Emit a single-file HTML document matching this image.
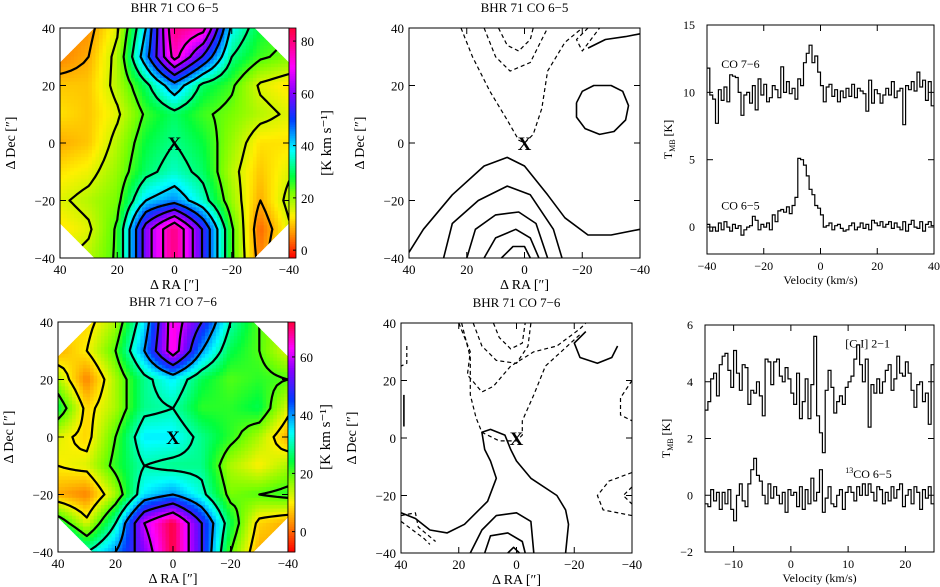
<!DOCTYPE html>
<html><head><meta charset="utf-8">
<style>
body{margin:0;background:#fff;}
svg{display:block;font-family:"Liberation Serif",serif;}
text{fill:#000;}
</style></head>
<body>
<svg id="fig" width="940" height="587" viewBox="0 0 940 587" xmlns="http://www.w3.org/2000/svg">
<defs>
<clipPath id="oct1"><polygon id="oct1p" points="0,0"/></clipPath>
<clipPath id="oct2"><polygon id="oct2p" points="0,0"/></clipPath>
</defs>
</svg>
<script>
// ===== Data =====
const co65Grid = [
 [5,6,15,40,80,75,38,28,25],
 [5,8,18,45,75,55,32,25,22],
 [10,10,18,30,45,30,25,15,12],
 [12,10,15,25,30,25,22,18,15],
 [8,10,18,28,32,28,20,12,12],
 [12,14,20,30,35,30,18,10,15],
 [15,18,22,40,45,35,20,8,18],
 [12,15,25,60,80,55,25,3,15],
 [15,18,25,60,80,55,25,5,18]
];
const co76Grid = [
 [10,8,15,35,65,50,30,20,15],
 [5,10,20,40,65,40,25,20,12],
 [15,2,15,28,35,25,20,22,20],
 [25,8,15,28,30,22,22,25,12],
 [12,8,20,35,35,28,22,15,5],
 [10,12,22,30,28,28,15,10,15],
 [5,2,15,35,40,32,18,20,22],
 [25,12,30,60,72,50,25,8,5],
 [45,30,40,55,72,50,20,5,5]
];
const co65Levels = [8,16,24,32,40,48,56,64,72];
const co76Levels = [10,20,30,40,50,60];
const cbTicks65 = [0,20,40,60,80];
const cbTicks76 = [0,20,40,60];
const mapTicks = [40,20,0,-20,-40];

const co76Spec = [11.8,9.8,9.5,7.7,10.2,9.4,10.4,9.3,11.3,11.2,11.1,10,8.3,9.8,10,9.2,10.5,8.7,11,9.8,10.6,9.3,9.6,10.5,10.2,9.6,11.9,10,10.8,9.9,10.3,9.5,11,10.5,12.2,12.9,13.5,12.2,12.7,11.5,10.5,9.3,10.4,10.6,9.7,10.2,9.3,10.1,9.6,10.3,9.7,10.6,9.6,10.3,10.1,9.9,8.6,10.9,9.2,10.2,9.9,9.2,9.8,10.3,9.8,10.8,9.6,10.1,10.3,7.6,10.5,10.2,10.8,10.1,11.5,10.4,10.9,9.4,10.8,9];
const co65Spec = [0.2,-0.3,0,-0.3,0.3,-0.2,0.4,0,-0.3,0.2,-0.1,0.1,-0.6,-0.2,0,0.1,0.8,0.5,-0.2,0.2,0,0.3,-0.2,0.9,0.4,1.2,1.3,1.1,1.5,1,1.6,2.2,5.1,5,4.6,3.8,2.8,2.4,1.6,1.4,0.9,0,0.1,0.3,-0.2,0.1,0.2,-0.1,-0.3,-0.2,0.1,0.3,-0.2,0,0.3,-0.1,0.2,-0.2,0.5,0.3,0.1,0.4,0,0.2,0.4,-0.1,0.3,0,-0.2,0.4,-0.3,0.2,0.5,0,-0.1,0.4,-0.3,0.2,0.4,0.1];
const ciSpec = [3,3.3,4.1,4.3,3.5,4.6,4.9,5,4.4,3.8,5.1,4.3,3.7,4.6,4.5,3.2,3.7,3.6,4,3.5,2.8,4.8,4.7,3.9,4.7,4.8,4.2,4,4.5,4.1,3.6,3.2,4.3,2.7,3.3,4.1,2.7,3.9,5.6,2.8,2.2,1.5,3.7,4.4,3.8,2.9,3.3,3.5,3.2,3.8,4,4.2,4.8,5.3,4.6,4,4.8,2.4,3.9,3.6,4.1,3.6,4,4.4,4.6,3.7,4.1,4.9,4.3,4.2,4.7,4.3,3.7,3.1,3.9,4,3.3,3.6,2.5,4.6];
const co13Spec = [-0.3,-0.4,0.2,-0.2,0.1,-0.5,0.1,-0.3,0.2,-0.5,-0.9,0,0.4,-0.2,-0.4,0.4,0.9,1.3,0.7,0.5,0,-0.3,0.4,-0.1,0.3,0,-0.3,0.1,-0.6,0.2,0,0.1,-0.4,0.3,-0.5,0.2,-0.3,0.6,-0.2,0.1,0.9,-0.6,-0.1,0.3,-0.3,-0.4,0,0.2,-0.5,0.1,0.3,0.1,-0.2,0.3,0,0.4,0,0.4,0.1,-0.2,0.3,0.2,-0.3,0.1,-0.2,0.3,-0.1,0.2,0.4,-0.4,0,0.2,-0.3,0.3,0.1,-0.5,0.2,-0.1,0.3,-0.3];
const specTicksTopX = [-40,-20,0,20,40];
const specTicksTopY = [0,5,10,15];
const specTicksBotX = [-10,0,10,20];
const specTicksBotY = [-2,0,2,4,6];

const mid1Dashed = [
 [[22,40],[18,30],[12,18],[6,8],[2,1],[0,0],[-3,3],[-6,12],[-8,25],[-14,35],[-20,40]],
 [[14,40],[10,30],[5,25],[-2,28],[-6,36],[-8,40]],
 [[9,40],[6,34],[2,32],[-2,36],[-3,40]],
 [[-22,40],[-18,36],[-20,32],[-26,40]]
];
const mid1Solid = [
 [[-18,14],[-18,9],[-21,5],[-26,3],[-31,4],[-35,8],[-36,13],[-34,18],[-30,20],[-24,20],[-20,18],[-18,14]],
 [[-22,33],[-28,36],[-35,37],[-40,38]],
 [[40,-38],[35,-30],[25,-18],[14,-8],[6,-5],[0,-8],[-8,-18],[-14,-26],[-22,-32],[-30,-32],[-40,-30]],
 [[28,-40],[25,-28],[16,-20],[6,-15],[-2,-18],[-10,-30],[-13,-40]],
 [[20,-40],[17,-30],[10,-25],[2,-24],[-4,-28],[-8,-40]],
 [[14,-40],[10,-33],[3,-30],[-2,-33],[-5,-40]],
 [[8,-40],[4,-36],[0,-36],[-2,-40]]
];
const mid2Dashed = [
 [[20,40],[16,30],[17,22],[12,16],[8,18],[2,25],[-6,30],[-14,32],[-22,38],[-24,40]],
 [[15,40],[12,32],[7,27],[0,26],[-4,32],[-5,40]],
 [[8,40],[6,35],[2,31],[-2,33],[-3,40]],
 [[19,40],[16,28],[16,15],[14,7],[12,2],[6,-1],[0,-1],[-2,1],[-2,6],[-6,15],[-10,25],[-22,36]],
 [[38,32],[38,26],[40,25]],
 [[-40,20],[-36,14],[-36,8],[-40,6]],
 [[-40,-12],[-32,-15],[-28,-20],[-30,-25],[-40,-27]],
 [[-40,-17],[-37,-20],[-40,-23]],
 [[40,-27],[35,-26],[34,-31],[28,-36]],
 [[40,-29],[36,-32],[32,-35],[30,-37]]
];
const mid2Solid = [
 [[40,-26],[35,-28],[30,-32],[24,-33],[18,-30],[10,-22],[7,-14],[9,-8],[11,-4],[12,2],[9,3],[4,1],[2,-4],[0,-8],[-5,-14],[-14,-20],[-17,-25],[-18,-30],[-17,-40]],
 [[16,-40],[12,-32],[7,-27],[0,-26],[-5,-29],[-6,-40]],
 [[11,-40],[9,-34],[3,-33],[-2,-36],[-3,-40]],
 [[3,-40],[1,-38],[-1,-40]],
 [[39,15],[39,8],[39,4]],
 [[-24,37],[-20,33],[-22,28],[-28,26],[-33,28],[-35,32]]
];

// ===== Rendering =====
const NS = "http://www.w3.org/2000/svg";
const svg = document.getElementById('fig');
function el(tag, attrs, parent){
  const e = document.createElementNS(NS, tag);
  for (const k in attrs) e.setAttribute(k, attrs[k]);
  (parent||svg).appendChild(e);
  return e;
}
function txt(x,y,s,size,anchor,parent,rot){
  const t = el('text',{x:x,y:y,'font-size':size,'text-anchor':anchor||'middle'},parent);
  if (rot) t.setAttribute('transform','rotate('+rot+' '+x+' '+y+')');
  t.textContent = s;
  return t;
}
const stops65 = [[-3,[255,0,0]],[5,[255,130,0]],[13,[255,240,0]],[22,[120,255,0]],[28,[0,255,60]],[38,[0,255,255]],[50,[0,60,255]],[60,[130,0,255]],[70,[255,0,255]],[85,[255,0,60]]];
const stops76 = [[-7,[255,0,0]],[2,[255,130,0]],[10,[255,240,0]],[18,[120,255,0]],[24,[0,255,60]],[34,[0,255,255]],[45,[0,60,255]],[55,[130,0,255]],[63,[255,0,255]],[72,[255,0,60]]];
function cmap(v, stops){
  if (v<=stops[0][0]) return 'rgb('+stops[0][1]+')';
  for (let i=1;i<stops.length;i++){
    if (v<=stops[i][0]){
      const a=stops[i-1], b=stops[i], t=(v-a[0])/(b[0]-a[0]);
      return 'rgb('+a[1].map((c,k)=>Math.round(c+(b[1][k]-c)*t)).join(',')+')';
    }
  }
  return 'rgb('+stops[stops.length-1][1]+')';
}
function axesFns(x0,x1,y0,y1){
  return {sx:ra=>x0+(40-ra)/80*(x1-x0), sy:d=>y0+(40-d)/80*(y1-y0)};
}
function sample(grid, ra, dec){
  const fj=(40-ra)/10, fi=(40-dec)/10;
  const j0=Math.max(0,Math.min(7,Math.floor(fj))), i0=Math.max(0,Math.min(7,Math.floor(fi)));
  const tj=fj-j0, ti=fi-i0;
  return grid[i0][j0]*(1-tj)*(1-ti)+grid[i0][j0+1]*tj*(1-ti)+grid[i0+1][j0]*(1-tj)*ti+grid[i0+1][j0+1]*tj*ti;
}
function mapTicksDraw(g,x0,x1,y0,y1,A){
  mapTicks.forEach(t=>{
    el('line',{x1:A.sx(t),x2:A.sx(t),y1:y1,y2:y1-6,stroke:'#000'},g);
    el('line',{x1:A.sx(t),x2:A.sx(t),y1:y0,y2:y0+6,stroke:'#000'},g);
    el('line',{x1:x0,x2:x0+6,y1:A.sy(t),y2:A.sy(t),stroke:'#000'},g);
    el('line',{x1:x1,x2:x1-6,y1:A.sy(t),y2:A.sy(t),stroke:'#000'},g);
    const lx = txt(A.sx(t), y1+16, t===0?'0':(t<0?'\u2212'+(-t):''+t), 13, 'middle', g);
    
    
    const ly = txt(x0-5, A.sy(t)+5, t===0?'0':(t<0?'\u2212'+(-t):''+t), 13, 'end', g);
    
    
  });
}
function drawMap(name, grid, stops, levels, x0,x1,y0,y1, clipId, cbTicks, cbMin, cbMax, title){
  const g = el('g',{});
  
  
  const A = axesFns(x0,x1,y0,y1);
  const c=12;
  const pts=[[40-c,40],[-40+c,40],[-40,40-c],[-40,-40+c],[-40+c,-40],[40-c,-40],[40,-40+c],[40,40-c]].map(p=>A.sx(p[0])+','+A.sy(p[1])).join(' ');
  document.getElementById(clipId+'p').setAttribute('points',pts);
  const hm = el('g',{'clip-path':'url(#'+clipId+')'},g);
  
  
  const N=64, step=80/N;
  const cw=(x1-x0)/N, ch=(y1-y0)/N;
  for(let i=0;i<N;i++) for(let j=0;j<N;j++){
    const ra=40-(j+0.5)*step, dec=40-(i+0.5)*step;
    const v=sample(grid,ra,dec);
    const r=el('rect',{x:A.sx(40-j*step)-0.3,y:A.sy(40-i*step)-0.3,width:cw+0.6,height:ch+0.6,fill:cmap(v,stops)},hm);
    
    
  }
  const M=40, ms=80/M;
  const F=[];
  for(let i=0;i<=M;i++){F.push([]);for(let j=0;j<=M;j++)F[i].push(sample(grid,40-j*ms,40-i*ms));}
  let d='';
  levels.forEach(L=>{
    for(let i=0;i<M;i++) for(let j=0;j<M;j++){
      const a=F[i][j],b=F[i][j+1],cc=F[i+1][j+1],dd=F[i+1][j];
      const P=[];
      const ed=(v1,v2,p1,p2)=>{ if((v1<L)!==(v2<L)){const t=(L-v1)/(v2-v1);P.push([p1[0]+(p2[0]-p1[0])*t,p1[1]+(p2[1]-p1[1])*t]);} };
      const c00=[j,i],c01=[j+1,i],c11=[j+1,i+1],c10=[j,i+1];
      ed(a,b,c00,c01);ed(b,cc,c01,c11);ed(cc,dd,c11,c10);ed(dd,a,c10,c00);
      const X=p=>A.sx(40-p[0]*ms).toFixed(1), Y=p=>A.sy(40-p[1]*ms).toFixed(1);
      for(let k=0;k+1<P.length;k+=2) d+='M'+X(P[k])+' '+Y(P[k])+'L'+X(P[k+1])+' '+Y(P[k+1]);
    }
  });
  const cp=el('path',{d:d,stroke:'#000','stroke-width':2.2,fill:'none','stroke-linecap':'round'},hm);
  
  
  const fr=el('rect',{x:x0,y:y0,width:x1-x0,height:y1-y0,fill:'none',stroke:'#000'},g);
  
  
  mapTicksDraw(g,x0,x1,y0,y1,A);
  const xm=txt(A.sx(0),A.sy(0)+7,'X',19,'middle',g); xm.setAttribute('font-weight','bold');
  
  
  const cb=el('g',{},g);
  
  
  const cbx=x1, cbw=7, n=100;
  for(let k=0;k<n;k++){
    const v=cbMax-(k+0.5)*(cbMax-cbMin)/n;
    el('rect',{x:cbx,y:y0+k*(y1-y0)/n,width:cbw,height:(y1-y0)/n+0.5,fill:cmap(v,stops)},cb);
  }
  el('rect',{x:cbx,y:y0,width:cbw,height:y1-y0,fill:'none',stroke:'#000','stroke-width':0.8},cb);
  const cy=v=>y0+(cbMax-v)/(cbMax-cbMin)*(y1-y0);
  cbTicks.forEach(t=>{
    el('line',{x1:cbx+cbw,x2:cbx+cbw-3,y1:cy(t),y2:cy(t),stroke:'#000'},cb);
    const l=txt(cbx+12,cy(t)+5,''+t,13,'start',cb);
    
    
  });
  const ut=txt(cbx+42,(y0+y1)/2,'[K km s\u207B\u00B9]',15,'middle',cb,-90);
  
  
  const tt=txt((x0+x1)/2,y0-16,title,13,'middle',g);
  
  
  const xl=txt((x0+x1)/2,y1+31,'\u0394 RA [\u2033]',14,'middle',g);
  
  
  const yl=txt(x0-45,(y0+y1)/2,'\u0394 Dec [\u2033]',14,'middle',g,-90);
  
  
  return g;
}
function drawContourPanel(name,dashed,solid,x0,x1,y0,y1,title){
  const g=el('g',{});
  
  
  const A=axesFns(x0,x1,y0,y1);
  const clip=el('g',{},g);
  const toD=pl=>'M'+pl.map(p=>A.sx(p[0]).toFixed(1)+' '+A.sy(p[1]).toFixed(1)).join(' L');
  dashed.forEach(pl=>{
    const p=el('path',{d:toD(pl),stroke:'#000','stroke-width':1.2,fill:'none','stroke-dasharray':'4 3','stroke-linejoin':'round'},clip);
    
    
  });
  solid.forEach(pl=>{
    const p=el('path',{d:toD(pl),stroke:'#000','stroke-width':1.6,fill:'none','stroke-linejoin':'round'},clip);
    
    
  });
  const fr=el('rect',{x:x0,y:y0,width:x1-x0,height:y1-y0,fill:'none',stroke:'#000'},g);
  
  
  mapTicksDraw(g,x0,x1,y0,y1,A);
  const xm=txt(A.sx(0),A.sy(0)+7,'X',19,'middle',g); xm.setAttribute('font-weight','bold');
  
  
  const tt=txt((x0+x1)/2,y0-16,title,13,'middle',g);
  
  
  const xl=txt((x0+x1)/2,y1+31,'\u0394 RA [\u2033]',14,'middle',g);
  
  
  const yl=txt(x0-45,(y0+y1)/2,'\u0394 Dec [\u2033]',14,'middle',g,-90);
  
  
}
function drawSpectra(name,specs,x0,x1,y0,y1,vmin,vmax,tmin,tmax,xt,yt,labels){
  const g=el('g',{});
  
  
  const sx=v=>x0+(v-vmin)/(vmax-vmin)*(x1-x0);
  const sy=t=>y1-(t-tmin)/(tmax-tmin)*(y1-y0);
  specs.forEach(s=>{
    const dv=(vmax-vmin)/s.length;
    let d='';
    s.forEach((val,i)=>{
      const xa=sx(vmin+i*dv), xb=sx(vmin+(i+1)*dv), y=sy(val);
      d+=(i===0?'M':'L')+xa.toFixed(1)+' '+y.toFixed(1)+'L'+xb.toFixed(1)+' '+y.toFixed(1);
    });
    const p=el('path',{d:d,stroke:'#000','stroke-width':1.2,fill:'none'},g);
    
    
  });
  const fr=el('rect',{x:x0,y:y0,width:x1-x0,height:y1-y0,fill:'none',stroke:'#000'},g);
  
  
  xt.forEach(t=>{
    el('line',{x1:sx(t),x2:sx(t),y1:y1,y2:y1-6,stroke:'#000'},g);
    el('line',{x1:sx(t),x2:sx(t),y1:y0,y2:y0+6,stroke:'#000'},g);
    const l=txt(sx(t),y1+16,t<0?'\u2212'+(-t):''+t,12,'middle',g);
    
    
  });
  yt.forEach(t=>{
    el('line',{x1:x0,x2:x0+6,y1:sy(t),y2:sy(t),stroke:'#000'},g);
    el('line',{x1:x1,x2:x1-6,y1:sy(t),y2:sy(t),stroke:'#000'},g);
    const l=txt(x0-12,sy(t)+4,t<0?'\u2212'+(-t):''+t,12,'end',g);
    
    
  });
  const xl=txt((x0+x1)/2,y1+30,'Velocity (km/s)',12,'middle',g);
  
  
  const yl=el('text',{x:x0-35,y:(y0+y1)/2,'font-size':12,'text-anchor':'middle',transform:'rotate(-90 '+(x0-35)+' '+((y0+y1)/2)+')'},g);
  yl.innerHTML='T<tspan font-size="8" dy="3">MB</tspan><tspan dy="-3"> [K]</tspan>';
  
  
  labels.forEach(L=>{
    const t=el('text',{x:sx(L[0]),y:sy(L[1]),'font-size':12},g);
    t.innerHTML=L[2];
    
    
  });
}

drawMap('co65-map',co65Grid,stops65,co65Levels,60,289,28,258,'oct1',cbTicks65,-3,85,'BHR 71 CO 6\u22125');
drawMap('co76-map',co76Grid,stops76,co76Levels,58,288,322,552,'oct2',cbTicks76,-7,72,'BHR 71 CO 7\u22126');
drawContourPanel('co65-residual-contours',mid1Dashed,mid1Solid,409,640,28,258,'BHR 71 CO 6\u22125');
drawContourPanel('co76-residual-contours',mid2Dashed,mid2Solid,401,632,323,553,'BHR 71 CO 7\u22126');
drawSpectra('co-spectra',[co76Spec,co65Spec],707,934,25,254,-40,40,-2,15,specTicksTopX,specTicksTopY,[[-35,11.8,'CO 7\u22126'],[-35,1.3,'CO 6\u22125']]);
drawSpectra('ci-13co-spectra',[ciSpec,co13Spec],705,934,325,552,-15,25,-2,6,specTicksBotX,specTicksBotY,[[9.5,5.2,'[C I] 2\u22121'],[9.5,0.6,'<tspan font-size="8" dy="-5">13</tspan><tspan dy="5">CO 6\u22125</tspan>']]);
</script>
</body></html>
